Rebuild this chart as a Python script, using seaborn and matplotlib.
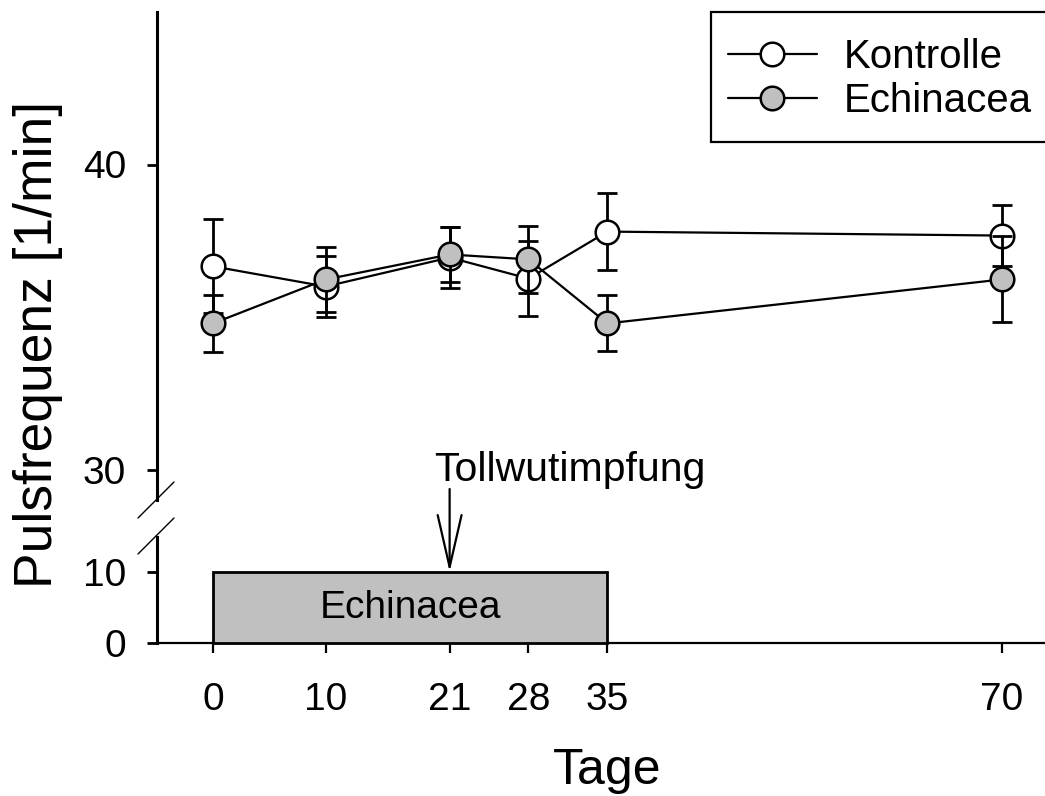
import matplotlib
matplotlib.use("Agg")
import matplotlib.pyplot as plt
import seaborn as sns
import pandas as pd
import numpy as np
from matplotlib.patches import Rectangle
from matplotlib.lines import Line2D

# ---- data ----
days = [0, 10, 21, 28, 35, 70]
kontrolle_mean = [36.66, 36.00, 36.95, 36.26, 37.80, 37.67]
kontrolle_err = [1.54, 1.00, 1.00, 1.23, 1.26, 1.00]
echinacea_mean = [34.79, 36.23, 37.05, 36.89, 34.79, 36.23]
echinacea_err = [0.93, 1.08, 0.90, 1.10, 0.92, 1.41]
series_names = ["Kontrolle", "Echinacea"]
x_ticks = [0, 10, 21, 28, 35, 70]
upper_yticks = [30, 40]
lower_yticks = [0, 10]
treatment_start, treatment_end, treatment_height = 0, 35, 10
treatment_label = "Echinacea"
vaccination_day = 21
vaccination_label = "Tollwutimpfung"

sns.set_theme(style="white")
plt.rcParams['font.family'] = ['Liberation Sans', 'DejaVu Sans']
plt.rcParams.update({'text.color': 'black', 'axes.labelcolor': 'black',
                     'xtick.color': 'black', 'ytick.color': 'black'})

W, H = 1045, 796
fig = plt.figure(figsize=(W / 100, H / 100), dpi=100)

left = 156.7 / W
right = 1058 / W
up_bot = 1 - 500 / H
up_top = 1 - 12 / H
lo_bot = 1 - 643 / H
lo_top = 1 - 536.5 / H

ax_up = fig.add_axes([left, up_bot, right - left, up_top - up_bot])
ax_lo = fig.add_axes([left, lo_bot, right - left, lo_top - lo_bot])

xlim = (-5, 75)
for ax in (ax_up, ax_lo):
    ax.set_xlim(*xlim)
    ax.set_facecolor('none')
    for s in ['top', 'right']:
        ax.spines[s].set_visible(False)
    ax.spines['left'].set_linewidth(2.2)
    ax.spines['left'].set_color('black')
    ax.tick_params(axis='y', which='major', direction='out', length=7, width=2,
                   color='black', labelcolor='black', labelsize=28, pad=15, left=True)

ax_up.spines['bottom'].set_visible(False)
ax_up.set_ylim(29, 45)
ax_up.set_yticks(upper_yticks)
ax_up.set_xticks([])

ax_lo.set_ylim(0, 15)
ax_lo.set_yticks(lower_yticks)
ax_lo.spines['bottom'].set_linewidth(1.6)
ax_lo.spines['bottom'].set_color('black')
ax_lo.set_xticks(x_ticks)
ax_lo.tick_params(axis='x', direction='out', length=7, width=1.6, color='black',
                  labelcolor='black', labelsize=28, pad=21, bottom=True)

df = pd.DataFrame({
    "Tage": days * 2,
    "Puls": kontrolle_mean + echinacea_mean,
    "err": kontrolle_err + echinacea_err,
    "Gruppe": [series_names[0]] * len(days) + [series_names[1]] * len(days),
})

face = {series_names[0]: "white", series_names[1]: "#c0c0c0"}
z = 2
for name in series_names:
    sub = df[df["Gruppe"] == name]
    ax_up.errorbar(sub["Tage"], sub["Puls"], yerr=sub["err"], fmt='none',
                   ecolor='black', elinewidth=2, capsize=7.5, capthick=2, zorder=z)
    sns.lineplot(data=sub, x="Tage", y="Puls", ax=ax_up, color='black', lw=1.6,
                 marker='o', markersize=17, markerfacecolor=face[name],
                 markeredgecolor='black', markeredgewidth=1.8, zorder=z + 1,
                 label=name, legend=False)
    z += 2

ax_up.set_xlabel("")
ax_up.set_ylabel("")

# legend (frame drawn separately; it runs past the right edge as in the original)
handles = [Line2D([], [], color='black', lw=1.6, marker='o', markersize=17,
                  markerfacecolor=face[n], markeredgecolor='black',
                  markeredgewidth=1.8) for n in series_names]
leg = ax_up.legend(handles, series_names, loc='upper left',
                   bbox_to_anchor=(711 / W, 1 - 21 / H), bbox_transform=fig.transFigure,
                   borderaxespad=0, fontsize=29, frameon=False,
                   handlelength=2.2, handletextpad=0.67, borderpad=0.42,
                   labelspacing=0.15)
leg.set_zorder(10)
for t in leg.get_texts():
    t.set_color('black')
ax_up.add_patch(Rectangle((711 / W, 1 - 142 / H), (1100 - 711) / W, 130 / H,
                          transform=fig.transFigure, facecolor='white',
                          edgecolor='black', lw=1.6, zorder=9, clip_on=False))

# treatment bar
ax_lo.add_patch(Rectangle((treatment_start, 0), treatment_end - treatment_start,
                          treatment_height, facecolor='#c0c0c0', edgecolor='black',
                          lw=2, zorder=3, clip_on=False))
ax_lo.text((treatment_start + treatment_end) / 2, treatment_height / 2, treatment_label,
           ha='center', va='center', fontsize=28, zorder=4, color='black')

# vaccination arrow
ax_lo.annotate("", xy=(vaccination_day, treatment_height),
               xytext=(vaccination_day, treatment_height + 83 / 7.1),
               arrowprops=dict(arrowstyle='->,head_length=1.87,head_width=0.43',
                               mutation_scale=20,
                               color='black', lw=1.6, shrinkA=0, shrinkB=0),
               annotation_clip=False, zorder=5)
ax_up.text(vaccination_day - 1.4, 30.0, vaccination_label, ha='left', va='center',
           fontsize=29.5, color='black')

# axis labels
ax_lo.set_xlabel("Tage", fontsize=36, labelpad=22, color='black')
fig.text(38 / W, 1 - 344 / H, "Pulsfrequenz [1/min]", rotation=90, ha='center',
         va='center', fontsize=38.4, color='black')

# break marks
def brk(y_px):
    x0, x1 = 138 / W, 174 / W
    fig.add_artist(Line2D([x0, x1], [1 - (y_px + 18) / H, 1 - (y_px - 18) / H],
                          color='black', lw=1.0))
brk(500)
brk(536)

fig.savefig("out.png", dpi=100)
